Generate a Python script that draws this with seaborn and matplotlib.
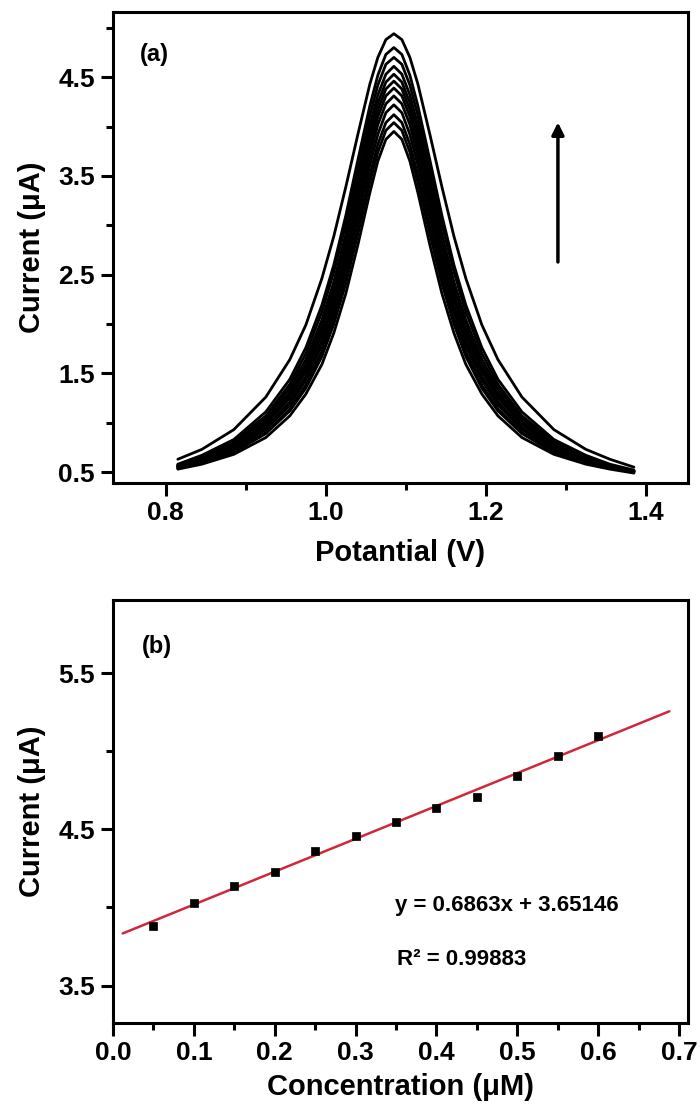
import matplotlib
matplotlib.use('Agg')
import matplotlib.pyplot as plt
import seaborn as sns
import numpy as np
import pandas as pd
from matplotlib.ticker import MultipleLocator

# (a) DPV curves, potential (V) and current (uA)
potential = [0.815, 0.845, 0.885, 0.925, 0.955, 0.975, 0.995, 1.010, 1.025, 1.040,
             1.055, 1.065, 1.075, 1.085, 1.095, 1.105, 1.115, 1.130, 1.145, 1.160,
             1.175, 1.195, 1.215, 1.245, 1.285, 1.325, 1.355, 1.385]

curve_01 = [0.53, 0.58, 0.68, 0.85, 1.07, 1.29, 1.59, 1.91, 2.31, 2.80, 3.33, 3.65, 3.87, 3.95,
            3.87, 3.65, 3.33, 2.80, 2.31, 1.91, 1.59, 1.29, 1.07, 0.85, 0.68, 0.58, 0.53, 0.49]
curve_02 = [0.54, 0.60, 0.70, 0.89, 1.12, 1.35, 1.67, 2.00, 2.41, 2.91, 3.43, 3.74, 3.96, 4.04,
            3.96, 3.74, 3.43, 2.91, 2.41, 2.00, 1.67, 1.35, 1.12, 0.89, 0.70, 0.60, 0.54, 0.50]
curve_03 = [0.54, 0.60, 0.71, 0.90, 1.14, 1.38, 1.72, 2.06, 2.48, 2.98, 3.51, 3.82, 4.04, 4.12,
            4.04, 3.82, 3.51, 2.98, 2.48, 2.06, 1.72, 1.38, 1.14, 0.90, 0.71, 0.60, 0.54, 0.50]
curve_04 = [0.55, 0.61, 0.73, 0.93, 1.18, 1.43, 1.78, 2.13, 2.56, 3.08, 3.61, 3.92, 4.14, 4.22,
            4.14, 3.92, 3.61, 3.08, 2.56, 2.13, 1.78, 1.43, 1.18, 0.93, 0.73, 0.61, 0.55, 0.51]
curve_05 = [0.55, 0.61, 0.74, 0.95, 1.21, 1.47, 1.83, 2.19, 2.64, 3.16, 3.70, 4.02, 4.23, 4.31,
            4.23, 4.02, 3.70, 3.16, 2.64, 2.19, 1.83, 1.47, 1.21, 0.95, 0.74, 0.61, 0.55, 0.50]
curve_06 = [0.56, 0.63, 0.76, 0.98, 1.25, 1.52, 1.89, 2.26, 2.71, 3.24, 3.78, 4.10, 4.31, 4.39,
            4.31, 4.10, 3.78, 3.24, 2.71, 2.26, 1.89, 1.52, 1.25, 0.98, 0.76, 0.63, 0.56, 0.51]
curve_07 = [0.56, 0.63, 0.77, 1.00, 1.28, 1.55, 1.94, 2.31, 2.77, 3.31, 3.86, 4.17, 4.38, 4.46,
            4.38, 4.17, 3.86, 3.31, 2.77, 2.31, 1.94, 1.55, 1.28, 1.00, 0.77, 0.63, 0.56, 0.51]
curve_08 = [0.56, 0.63, 0.78, 1.01, 1.31, 1.59, 1.98, 2.37, 2.84, 3.38, 3.93, 4.24, 4.45, 4.53,
            4.45, 4.24, 3.93, 3.38, 2.84, 2.37, 1.98, 1.59, 1.31, 1.01, 0.78, 0.63, 0.56, 0.51]
curve_09 = [0.57, 0.65, 0.80, 1.04, 1.35, 1.64, 2.04, 2.43, 2.91, 3.46, 4.01, 4.32, 4.53, 4.61,
            4.53, 4.32, 4.01, 3.46, 2.91, 2.43, 2.04, 1.64, 1.35, 1.04, 0.80, 0.65, 0.57, 0.51]
curve_10 = [0.57, 0.65, 0.81, 1.07, 1.39, 1.70, 2.12, 2.53, 3.01, 3.56, 4.11, 4.42, 4.63, 4.70,
            4.63, 4.42, 4.11, 3.56, 3.01, 2.53, 2.12, 1.70, 1.39, 1.07, 0.81, 0.65, 0.57, 0.51]
curve_11 = [0.58, 0.67, 0.83, 1.11, 1.44, 1.76, 2.19, 2.60, 3.10, 3.66, 4.21, 4.52, 4.73, 4.80,
            4.73, 4.52, 4.21, 3.66, 3.10, 2.60, 2.19, 1.76, 1.44, 1.11, 0.83, 0.67, 0.58, 0.52]
curve_12 = [0.63, 0.73, 0.93, 1.26, 1.64, 1.99, 2.46, 2.89, 3.39, 3.92, 4.43, 4.70, 4.88, 4.94,
            4.88, 4.70, 4.43, 3.92, 3.39, 2.89, 2.46, 1.99, 1.64, 1.26, 0.93, 0.73, 0.63, 0.55]

# arrow showing increasing concentration
arrow_x = 1.29
arrow_span = [2.60, 4.07]

# (b) calibration points
concentration = [0.05, 0.10, 0.15, 0.20, 0.25, 0.30, 0.35, 0.40, 0.45, 0.50, 0.55, 0.60]
peak_current = [3.88, 4.03, 4.14, 4.23, 4.36, 4.46, 4.55, 4.64, 4.71, 4.84, 4.97, 5.10]
fit_span = [0.012, 0.688]
equation = 'y = 0.6863x + 3.65146'
r_squared = 'R\u00b2 = 0.99883'

sns.set_style('ticks')
plt.rcParams['font.family'] = ['Liberation Sans', 'DejaVu Sans']
plt.rcParams['font.weight'] = 'bold'
plt.rcParams['axes.linewidth'] = 2.2
plt.rcParams['text.color'] = 'black'
plt.rcParams['axes.labelcolor'] = 'black'
plt.rcParams['xtick.color'] = 'black'
plt.rcParams['ytick.color'] = 'black'

fig = plt.figure(figsize=(7, 11.1), dpi=100)
ax1 = fig.add_axes([0.1614, 0.5649, 0.8214, 0.4243])
ax2 = fig.add_axes([0.1614, 0.0784, 0.8214, 0.3811])

# long table for the DPV curves
curves = [curve_01, curve_02, curve_03, curve_04, curve_05, curve_06,
          curve_07, curve_08, curve_09, curve_10, curve_11, curve_12]
dpv = pd.concat([pd.DataFrame({'potential': potential, 'current': c, 'curve': i})
                 for i, c in enumerate(curves)])

sns.lineplot(data=dpv, x='potential', y='current', units='curve', estimator=None,
             sort=False, color='black', lw=2.0, ax=ax1)
ax1.annotate('', xy=(arrow_x, arrow_span[1]), xytext=(arrow_x, arrow_span[0]),
             arrowprops=dict(arrowstyle='-|>', color='black', lw=2.5, mutation_scale=18))

ax1.set_xlim(0.734, 1.4525)
ax1.set_ylim(0.39, 5.16)
ax1.xaxis.set_major_locator(MultipleLocator(0.2))
ax1.xaxis.set_minor_locator(MultipleLocator(0.1))
ax1.set_yticks([0.5, 1.5, 2.5, 3.5, 4.5])
ax1.yaxis.set_minor_locator(MultipleLocator(0.5))
ax1.set_xlabel('Potantial (V)', fontsize=21, fontweight='bold', labelpad=10)
ax1.set_ylabel('Current (\u03bcA)', fontsize=21, fontweight='bold', labelpad=9)
ax1.text(0.047, 0.909, '(a)', transform=ax1.transAxes, fontsize=17,
         fontweight='bold', va='center')

# calibration plot
fx = np.array(fit_span)
slope, intercept = np.polyfit(concentration, peak_current, 1)
sns.lineplot(x=fx, y=slope * fx + intercept, color='#d0283a', lw=1.8, ax=ax2)
sns.scatterplot(x=concentration, y=peak_current, marker='s', s=40, color='black',
                edgecolor='black', ax=ax2, zorder=3)

ax2.set_xlim(0, 0.711)
ax2.set_ylim(3.26, 5.97)
ax2.xaxis.set_major_locator(MultipleLocator(0.1))
ax2.xaxis.set_minor_locator(MultipleLocator(0.05))
ax2.set_yticks([3.5, 4.5, 5.5])
ax2.yaxis.set_minor_locator(MultipleLocator(0.5))
ax2.set_xlabel('Concentration (\u03bcM)', fontsize=21, fontweight='bold', labelpad=6)
ax2.set_ylabel('Current (\u03bcA)', fontsize=21, fontweight='bold', labelpad=9)
ax2.text(0.05, 0.889, '(b)', transform=ax2.transAxes, fontsize=17,
         fontweight='bold', va='center')
ax2.text(0.49, 0.277, equation, transform=ax2.transAxes, fontsize=16,
         fontweight='bold', va='center')
ax2.text(0.494, 0.149, r_squared, transform=ax2.transAxes, fontsize=16,
         fontweight='bold', va='center')

for ax in (ax1, ax2):
    ax.tick_params(which='major', direction='out', length=9, width=2.2,
                   labelsize=19, pad=4)
    ax.tick_params(which='minor', direction='out', length=5, width=2.2)
    for lab in ax.get_xticklabels() + ax.get_yticklabels():
        lab.set_fontweight('bold')
    for s in ax.spines.values():
        s.set_color('black')

fig.savefig('out.png', dpi=100)
